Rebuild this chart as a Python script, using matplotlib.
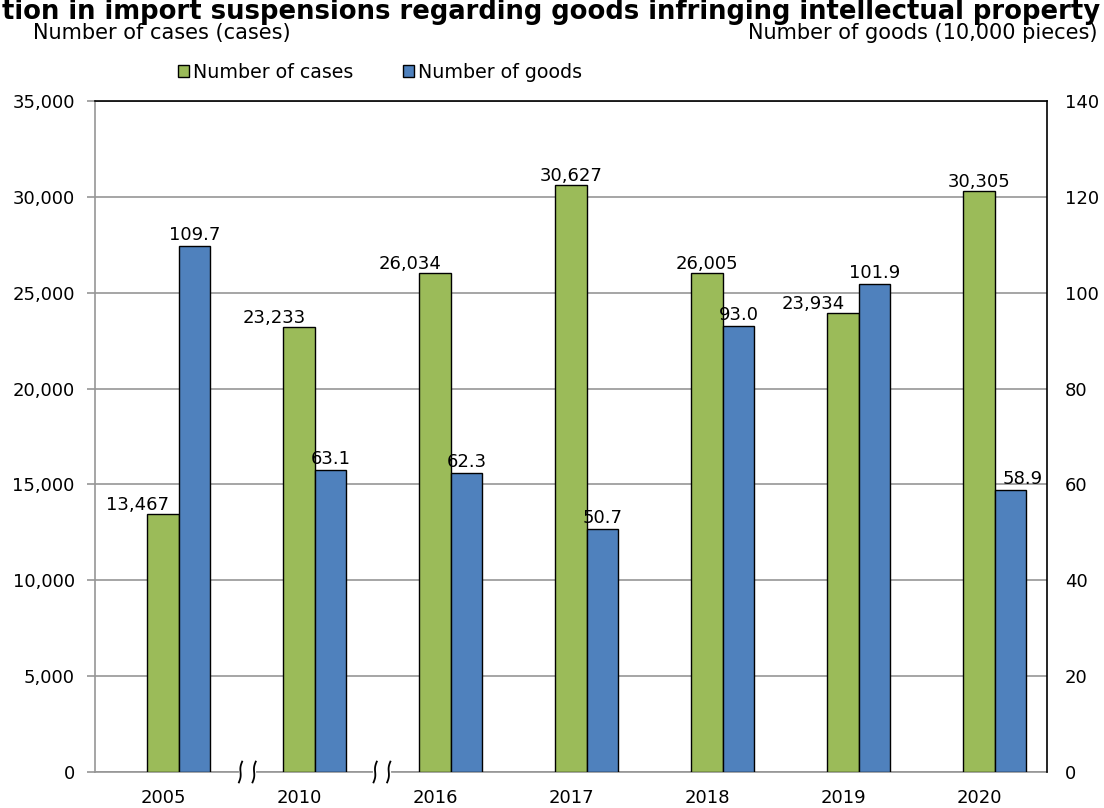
import numpy as np
import matplotlib
matplotlib.use("Agg")
import matplotlib.pyplot as plt
from matplotlib.patches import Patch
from matplotlib.transforms import blended_transform_factory

plt.rcParams['font.family'] = ['DejaVu Sans']

years = ["2005", "2010", "2016", "2017", "2018", "2019", "2020"]
cases = [13467, 23233, 26034, 30627, 26005, 23934, 30305]
goods = [109.7, 63.1, 62.3, 50.7, 93.0, 101.9, 58.9]

# label nudges (pixels) as placed in the original
case_dx = [-26, -25, -25, 0, 0, -30, 0]
goods_dx = [0, 0, 0, 0, 0, 0, 12]

green = "#9BBB59"
blue = "#4F81BD"
gray = "#969696"

fig = plt.figure(figsize=(11.04, 8.08), dpi=100)
ax = fig.add_axes([95 / 1104, 1 - 772 / 808, 952 / 1104, 671 / 808])
ax2 = ax.twinx()

x = np.arange(len(years))
w = 0.231

ax.bar(x, cases, width=w, color=green, edgecolor="black", linewidth=1.0, zorder=3)
ax2.bar(x + w, goods, width=w, color=blue, edgecolor="black", linewidth=1.0, zorder=3)

ax.set_xlim(-0.5, len(years) - 0.5)
ax.set_ylim(0, 35000)
ax2.set_ylim(0, 140)
ax.set_yticks(np.arange(0, 35001, 5000))
ax.set_yticklabels([f"{v:,}" for v in range(0, 35001, 5000)])
ax2.set_yticks(np.arange(0, 141, 20))
ax.set_xticks(x)
ax.set_xticklabels(years)

ax.grid(axis="y", color=gray, linewidth=1.2, zorder=0)
ax.set_axisbelow(True)

ax.tick_params(axis="y", direction="out", length=6, width=1.2, color=gray,
               labelsize=13, pad=8.5)
ax.tick_params(axis="x", length=0, labelsize=13, pad=12)
ax2.tick_params(axis="y", length=0, labelsize=13, pad=13)

for s in ["left", "bottom"]:
    ax.spines[s].set_color(gray)
    ax.spines[s].set_linewidth(1.2)
ax.spines["top"].set_color("black")
ax.spines["top"].set_linewidth(1.2)
ax.spines["right"].set_visible(False)
for s in ["left", "bottom", "top"]:
    ax2.spines[s].set_visible(False)
ax2.spines["right"].set_color("black")
ax2.spines["right"].set_linewidth(1.2)

for i in range(len(years)):
    ax.annotate(f"{cases[i]:,}", (x[i], cases[i]), xytext=(case_dx[i], 4),
                textcoords="offset pixels", ha="center", va="baseline", fontsize=13)
    ax2.annotate(f"{goods[i]:.1f}", (x[i] + w, goods[i]), xytext=(goods_dx[i], 6),
                 textcoords="offset pixels", ha="center", va="baseline", fontsize=13)

# axis break marks between 2005/2010 and 2010/2016
tr = blended_transform_factory(ax.transData, ax.transAxes)
t = np.linspace(-1, 1, 30)
for xb in [0.62, 1.61]:
    ax.plot([xb - 0.05, xb + 0.05], [0, 0], color="white", linewidth=3,
            transform=tr, clip_on=False, zorder=6)
    for dx in [-0.05, 0.05]:
        xs = xb + dx + 0.012 * t - 0.006 * np.sin(np.pi * t)
        ys = 0.0155 * t
        ax.plot(xs, ys, color="black", linewidth=1.3, transform=tr,
                clip_on=False, zorder=7)

# the title is cropped at the page edge in the original; this is the visible part
fig.text(551 / 1104, 1 - 19 / 808,
         "tion in import suspensions regarding goods infringing intellectual property",
         ha="center", va="baseline", fontsize=18.6, fontweight="bold")
fig.text(33 / 1104, 1 - 33 / 808, "Number of cases (cases)", ha="left", va="center", fontsize=15)
fig.text(1098 / 1104, 1 - 33 / 808, "Number of goods (10,000 pieces)", ha="right", va="center", fontsize=15)

handles = [Patch(facecolor=green, edgecolor="black", linewidth=1.0, label="Number of cases"),
           Patch(facecolor=blue, edgecolor="black", linewidth=1.0, label="Number of goods")]
fig.legend(handles=handles, loc="center", bbox_to_anchor=(380 / 1104, 1 - 72 / 808),
           ncol=2, frameon=False, fontsize=13.7, handlelength=0.6, handleheight=0.6,
           handletextpad=0.2, columnspacing=2.6, borderpad=0)

fig.savefig("out.png", dpi=100)
